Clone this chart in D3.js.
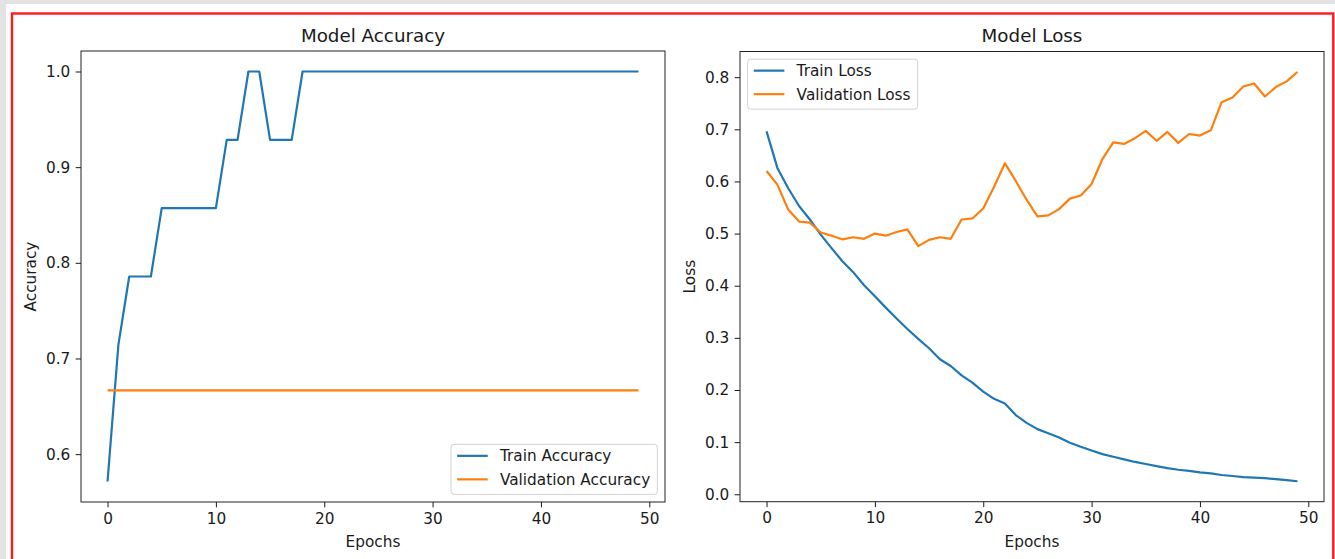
<!DOCTYPE html>
<html>
<head>
<meta charset="utf-8">
<script src="https://cdn.jsdelivr.net/npm/d3@7"></script>
<style>
  html, body { margin: 0; padding: 0; background: #e3e3e3; }
  svg { display: block; font-family: "DejaVu Sans", sans-serif; }
</style>
</head>
<body>
<script>
// values
const epochs = d3.range(50);

const trainAcc = [
  0.5714, 0.7143, 0.7857, 0.7857, 0.7857, 0.8571, 0.8571, 0.8571, 0.8571, 0.8571,
  0.8571, 0.9286, 0.9286, 1.0, 1.0, 0.9286, 0.9286, 0.9286, 1.0, 1.0,
  1.0, 1.0, 1.0, 1.0, 1.0, 1.0, 1.0, 1.0, 1.0, 1.0,
  1.0, 1.0, 1.0, 1.0, 1.0, 1.0, 1.0, 1.0, 1.0, 1.0,
  1.0, 1.0, 1.0, 1.0, 1.0, 1.0, 1.0, 1.0, 1.0, 1.0
];
const valAcc = [
  0.6667, 0.6667, 0.6667, 0.6667, 0.6667, 0.6667, 0.6667, 0.6667, 0.6667, 0.6667,
  0.6667, 0.6667, 0.6667, 0.6667, 0.6667, 0.6667, 0.6667, 0.6667, 0.6667, 0.6667,
  0.6667, 0.6667, 0.6667, 0.6667, 0.6667, 0.6667, 0.6667, 0.6667, 0.6667, 0.6667,
  0.6667, 0.6667, 0.6667, 0.6667, 0.6667, 0.6667, 0.6667, 0.6667, 0.6667, 0.6667,
  0.6667, 0.6667, 0.6667, 0.6667, 0.6667, 0.6667, 0.6667, 0.6667, 0.6667, 0.6667
];
const trainLoss = [
  0.696, 0.626, 0.587, 0.553, 0.527, 0.498, 0.472, 0.447, 0.426, 0.401,
  0.380, 0.358, 0.337, 0.317, 0.298, 0.280, 0.259, 0.246, 0.228, 0.214,
  0.197, 0.183, 0.174, 0.152, 0.137, 0.125, 0.117, 0.109, 0.099, 0.091,
  0.084, 0.077, 0.072, 0.067, 0.062, 0.058, 0.054, 0.050, 0.047, 0.045,
  0.042, 0.040, 0.037, 0.035, 0.033, 0.032, 0.031, 0.029, 0.027, 0.025
];
const valLoss = [
  0.620, 0.594, 0.546, 0.523, 0.521, 0.502, 0.496, 0.489, 0.493, 0.490,
  0.500, 0.496, 0.503, 0.508, 0.476, 0.488, 0.493, 0.490, 0.527, 0.529,
  0.548, 0.590, 0.635, 0.601, 0.565, 0.533, 0.535, 0.547, 0.567, 0.573,
  0.595, 0.643, 0.675, 0.672, 0.683, 0.697, 0.678, 0.695, 0.674, 0.691,
  0.688, 0.698, 0.752, 0.761, 0.782, 0.788, 0.763, 0.781, 0.792, 0.810
];

const xTicks = [0, 10, 20, 30, 40, 50];
const accTicks = [0.6, 0.7, 0.8, 0.9, 1.0];
const lossTicks = [0, 0.1, 0.2, 0.3, 0.4, 0.5, 0.6, 0.7, 0.8];

const blue = '#1f77b4', orange = '#ff7f0e';
const W = 1335, H = 559;
const fs = 15.3;          // 10pt at this figure's dpi
const tick = 5.35;

const svg = d3.select('body').append('svg').attr('width', W).attr('height', H);

// page background + red outline box
svg.append('rect').attr('width', W).attr('height', H).attr('fill', '#e3e3e3');
svg.append('rect').attr('x', 6).attr('y', 4).attr('width', W - 6).attr('height', H).attr('fill', '#fff');
svg.append('rect')
  .attr('x', 12).attr('y', 13.5).attr('width', 1321.3).attr('height', H)
  .attr('fill', 'none').attr('stroke', '#ff1a1a').attr('stroke-width', 2.4);

const pad = ([a, b]) => [a - 0.05 * (b - a), b + 0.05 * (b - a)];

function drawPanel(cfg) {
  const g = svg.append('g');
  const x = d3.scaleLinear().domain(pad(d3.extent(epochs))).range([cfg.left, cfg.right]);
  const all = cfg.series.flatMap(s => s.values);
  const y = d3.scaleLinear().domain(pad(d3.extent(all))).range([cfg.bottom, cfg.top]);

  const styleAxis = sel => {
    sel.select('.domain').remove();
    sel.attr('font-family', null).attr('font-size', null);
    sel.selectAll('line').attr('stroke', '#000').attr('stroke-width', 0.9);
    sel.selectAll('text').attr('fill', '#1a1a1a').style('font-size', fs + 'px');
  };

  g.append('g')
    .attr('transform', `translate(0,${cfg.bottom})`)
    .call(d3.axisBottom(x).tickValues(xTicks).tickFormat(d3.format('d'))
      .tickSize(tick).tickPadding(tick).tickSizeOuter(0))
    .call(styleAxis);

  g.append('g')
    .attr('transform', `translate(${cfg.left},0)`)
    .call(d3.axisLeft(y).tickValues(cfg.yTicks).tickFormat(d3.format('.1f'))
      .tickSize(tick).tickPadding(tick).tickSizeOuter(0))
    .call(styleAxis);

  const line = d3.line().x((d, i) => x(epochs[i])).y(d => y(d));
  cfg.series.forEach(s => {
    g.append('path')
      .datum(s.values)
      .attr('d', line)
      .attr('fill', 'none')
      .attr('stroke', s.color)
      .attr('stroke-width', 2.2)
      .attr('stroke-linejoin', 'round');
  });

  // frame
  g.append('rect')
    .attr('x', cfg.left).attr('y', cfg.top)
    .attr('width', cfg.right - cfg.left).attr('height', cfg.bottom - cfg.top)
    .attr('fill', 'none').attr('stroke', '#222').attr('stroke-width', 1);

  const cx = (cfg.left + cfg.right) / 2;
  g.append('text').attr('x', cx).attr('y', cfg.top - 9.5)
    .attr('text-anchor', 'middle').attr('fill', '#1a1a1a').style('font-size', '18.3px')
    .text(cfg.title);
  g.append('text').attr('x', cx).attr('y', cfg.bottom + 45)
    .attr('text-anchor', 'middle').attr('fill', '#1a1a1a').style('font-size', fs + 'px')
    .text('Epochs');
  g.append('text')
    .attr('transform', `translate(${cfg.left - 45},${(cfg.top + cfg.bottom) / 2}) rotate(-90)`)
    .attr('text-anchor', 'middle').attr('fill', '#1a1a1a').style('font-size', fs + 'px')
    .text(cfg.ylabel);

  // legend
  const lg = g.append('g');
  const box = lg.append('rect').attr('rx', 3)
    .attr('fill', '#fff').attr('fill-opacity', 0.8)
    .attr('stroke', '#d2d2d2').attr('stroke-width', 1);
  const labels = cfg.series.map((s, i) => {
    const t = lg.append('text').attr('fill', '#1a1a1a').style('font-size', fs + 'px').text(s.name);
    return t;
  });
  const textW = d3.max(labels, t => t.node().getComputedTextLength());
  const bp = 0.4 * fs, hl = 2 * fs, hp = 0.8 * fs, ap = 0.5 * fs;
  const bw = bp + hl + hp + textW + bp + 1;
  const bh = 50;
  const bx = cfg.legendLoc === 'lower right' ? cfg.right - ap - bw : cfg.left + ap;
  const by = cfg.legendLoc === 'lower right' ? cfg.bottom - ap - bh : cfg.top + ap;
  box.attr('x', bx).attr('y', by).attr('width', bw).attr('height', bh);
  cfg.series.forEach((s, i) => {
    const ry = by + 11.5 + i * 23.5;
    lg.append('line')
      .attr('x1', bx + bp).attr('x2', bx + bp + hl)
      .attr('y1', ry).attr('y2', ry)
      .attr('stroke', s.color).attr('stroke-width', 2.2);
    labels[i].attr('x', bx + bp + hl + hp).attr('y', ry).attr('dy', '0.36em');
  });
}

drawPanel({
  left: 81, right: 665, top: 51, bottom: 502,
  title: 'Model Accuracy', ylabel: 'Accuracy', yTicks: accTicks,
  legendLoc: 'lower right',
  series: [
    { name: 'Train Accuracy', values: trainAcc, color: blue },
    { name: 'Validation Accuracy', values: valAcc, color: orange }
  ]
});

drawPanel({
  left: 740, right: 1324, top: 51.5, bottom: 501.7,
  title: 'Model Loss', ylabel: 'Loss', yTicks: lossTicks,
  legendLoc: 'upper left',
  series: [
    { name: 'Train Loss', values: trainLoss, color: blue },
    { name: 'Validation Loss', values: valLoss, color: orange }
  ]
});
</script>
</body>
</html>
